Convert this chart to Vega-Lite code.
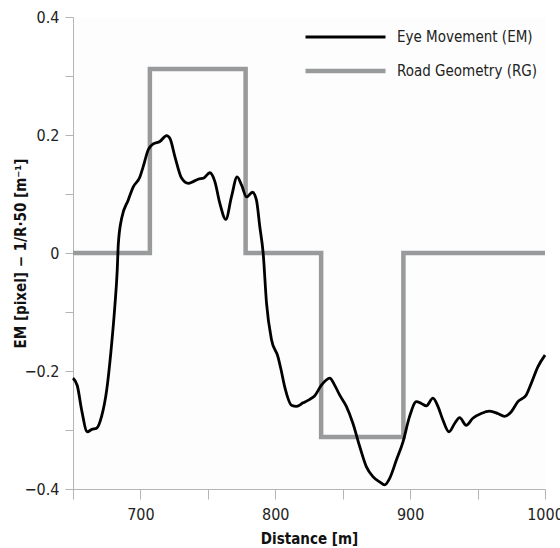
{
  "$schema": "https://vega.github.io/schema/vega-lite/v6.json",
  "width": 472,
  "height": 472,
  "autosize": "none",
  "padding": {"left": 73, "top": 17, "right": 15, "bottom": 59},
  "background": "white",
  "config": {
    "font": "DejaVu Sans Condensed, Liberation Sans Narrow, Roboto",
    "view": {"stroke": null, "fill": "#fdfdfd"}
  },
  "datasets": {
    "rg": [
      {"series": "Road Geometry (RG)", "i": 1, "x": 650, "y": 0},
      {"series": "Road Geometry (RG)", "i": 2, "x": 707, "y": 0},
      {"series": "Road Geometry (RG)", "i": 3, "x": 707, "y": 0.312},
      {"series": "Road Geometry (RG)", "i": 4, "x": 778, "y": 0.312},
      {"series": "Road Geometry (RG)", "i": 5, "x": 778, "y": 0},
      {"series": "Road Geometry (RG)", "i": 6, "x": 834, "y": 0},
      {"series": "Road Geometry (RG)", "i": 7, "x": 834, "y": -0.312},
      {"series": "Road Geometry (RG)", "i": 8, "x": 895, "y": -0.312},
      {"series": "Road Geometry (RG)", "i": 9, "x": 895, "y": 0},
      {"series": "Road Geometry (RG)", "i": 10, "x": 1000, "y": 0}
    ],
    "em": [
      {"series": "Eye Movement (EM)", "x": 650, "y": -0.212},
      {"series": "Eye Movement (EM)", "x": 653.2, "y": -0.225},
      {"series": "Eye Movement (EM)", "x": 656.4, "y": -0.266},
      {"series": "Eye Movement (EM)", "x": 660.6, "y": -0.303},
      {"series": "Eye Movement (EM)", "x": 664, "y": -0.299},
      {"series": "Eye Movement (EM)", "x": 667.5, "y": -0.297},
      {"series": "Eye Movement (EM)", "x": 671.2, "y": -0.277},
      {"series": "Eye Movement (EM)", "x": 675, "y": -0.232},
      {"series": "Eye Movement (EM)", "x": 678, "y": -0.17},
      {"series": "Eye Movement (EM)", "x": 681, "y": -0.091},
      {"series": "Eye Movement (EM)", "x": 682.8, "y": -0.029},
      {"series": "Eye Movement (EM)", "x": 683.6, "y": 0.015},
      {"series": "Eye Movement (EM)", "x": 686, "y": 0.058},
      {"series": "Eye Movement (EM)", "x": 691, "y": 0.09},
      {"series": "Eye Movement (EM)", "x": 694.7, "y": 0.112},
      {"series": "Eye Movement (EM)", "x": 699.6, "y": 0.129},
      {"series": "Eye Movement (EM)", "x": 702, "y": 0.146},
      {"series": "Eye Movement (EM)", "x": 705.8, "y": 0.175},
      {"series": "Eye Movement (EM)", "x": 709.5, "y": 0.185},
      {"series": "Eye Movement (EM)", "x": 714.4, "y": 0.189},
      {"series": "Eye Movement (EM)", "x": 719.4, "y": 0.199},
      {"series": "Eye Movement (EM)", "x": 721.9, "y": 0.194},
      {"series": "Eye Movement (EM)", "x": 725.6, "y": 0.163},
      {"series": "Eye Movement (EM)", "x": 730.5, "y": 0.127},
      {"series": "Eye Movement (EM)", "x": 735.4, "y": 0.118},
      {"series": "Eye Movement (EM)", "x": 739.1, "y": 0.121},
      {"series": "Eye Movement (EM)", "x": 742.8, "y": 0.125},
      {"series": "Eye Movement (EM)", "x": 747, "y": 0.127},
      {"series": "Eye Movement (EM)", "x": 751.5, "y": 0.136},
      {"series": "Eye Movement (EM)", "x": 755.2, "y": 0.121},
      {"series": "Eye Movement (EM)", "x": 758.9, "y": 0.084},
      {"series": "Eye Movement (EM)", "x": 763.3, "y": 0.057},
      {"series": "Eye Movement (EM)", "x": 767.5, "y": 0.095},
      {"series": "Eye Movement (EM)", "x": 771.7, "y": 0.129},
      {"series": "Eye Movement (EM)", "x": 775, "y": 0.115},
      {"series": "Eye Movement (EM)", "x": 778.7, "y": 0.095},
      {"series": "Eye Movement (EM)", "x": 783.1, "y": 0.103},
      {"series": "Eye Movement (EM)", "x": 786, "y": 0.09},
      {"series": "Eye Movement (EM)", "x": 788.5, "y": 0.045},
      {"series": "Eye Movement (EM)", "x": 791, "y": 0.0},
      {"series": "Eye Movement (EM)", "x": 793.5, "y": -0.085},
      {"series": "Eye Movement (EM)", "x": 797.2, "y": -0.147},
      {"series": "Eye Movement (EM)", "x": 802, "y": -0.176},
      {"series": "Eye Movement (EM)", "x": 804, "y": -0.195},
      {"series": "Eye Movement (EM)", "x": 807, "y": -0.227},
      {"series": "Eye Movement (EM)", "x": 812, "y": -0.258},
      {"series": "Eye Movement (EM)", "x": 815.7, "y": -0.26},
      {"series": "Eye Movement (EM)", "x": 820.6, "y": -0.254},
      {"series": "Eye Movement (EM)", "x": 825.6, "y": -0.248},
      {"series": "Eye Movement (EM)", "x": 829.3, "y": -0.242},
      {"series": "Eye Movement (EM)", "x": 834.2, "y": -0.224},
      {"series": "Eye Movement (EM)", "x": 840.4, "y": -0.212},
      {"series": "Eye Movement (EM)", "x": 844, "y": -0.224},
      {"series": "Eye Movement (EM)", "x": 847.8, "y": -0.241},
      {"series": "Eye Movement (EM)", "x": 852.7, "y": -0.26},
      {"series": "Eye Movement (EM)", "x": 857.6, "y": -0.289},
      {"series": "Eye Movement (EM)", "x": 862.6, "y": -0.328},
      {"series": "Eye Movement (EM)", "x": 867.5, "y": -0.362},
      {"series": "Eye Movement (EM)", "x": 872.4, "y": -0.379},
      {"series": "Eye Movement (EM)", "x": 877.4, "y": -0.388},
      {"series": "Eye Movement (EM)", "x": 881.1, "y": -0.393},
      {"series": "Eye Movement (EM)", "x": 884.8, "y": -0.382},
      {"series": "Eye Movement (EM)", "x": 889.8, "y": -0.351},
      {"series": "Eye Movement (EM)", "x": 894.7, "y": -0.32},
      {"series": "Eye Movement (EM)", "x": 899.6, "y": -0.277},
      {"series": "Eye Movement (EM)", "x": 904.6, "y": -0.252},
      {"series": "Eye Movement (EM)", "x": 908.3, "y": -0.255},
      {"series": "Eye Movement (EM)", "x": 912, "y": -0.259},
      {"series": "Eye Movement (EM)", "x": 916.9, "y": -0.246},
      {"series": "Eye Movement (EM)", "x": 920.6, "y": -0.26},
      {"series": "Eye Movement (EM)", "x": 924.3, "y": -0.283},
      {"series": "Eye Movement (EM)", "x": 928.8, "y": -0.303},
      {"series": "Eye Movement (EM)", "x": 933, "y": -0.289},
      {"series": "Eye Movement (EM)", "x": 936.7, "y": -0.279},
      {"series": "Eye Movement (EM)", "x": 941.6, "y": -0.292},
      {"series": "Eye Movement (EM)", "x": 946.5, "y": -0.28},
      {"series": "Eye Movement (EM)", "x": 952.7, "y": -0.272},
      {"series": "Eye Movement (EM)", "x": 958.9, "y": -0.268},
      {"series": "Eye Movement (EM)", "x": 965, "y": -0.272},
      {"series": "Eye Movement (EM)", "x": 970, "y": -0.277},
      {"series": "Eye Movement (EM)", "x": 975, "y": -0.269},
      {"series": "Eye Movement (EM)", "x": 979.9, "y": -0.252},
      {"series": "Eye Movement (EM)", "x": 986, "y": -0.241},
      {"series": "Eye Movement (EM)", "x": 989.8, "y": -0.221},
      {"series": "Eye Movement (EM)", "x": 994.7, "y": -0.193},
      {"series": "Eye Movement (EM)", "x": 1000, "y": -0.173}
    ]
  },
  "encoding": {
    "x": {
      "field": "x", "type": "quantitative",
      "scale": {"domain": [650, 1000], "nice": false, "zero": false},
      "axis": {
        "title": "Distance [m]",
        "values": [650, 700, 750, 800, 850, 900, 950, 1000],
        "labelExpr": "datum.value % 100 == 0 ? format(datum.value, 'd') : ''",
        "grid": false, "domainColor": "#b5b5b5", "tickColor": "#b5b5b5",
        "tickSize": 10, "labelFontSize": 16, "labelColor": "#222",
        "labelPadding": 7, "labelFlush": false, "labelOverlap": false,
        "titleFontSize": 15, "titleFontWeight": "bold", "titleColor": "#111",
        "titlePadding": 9
      }
    },
    "y": {
      "field": "y", "type": "quantitative",
      "scale": {"domain": [-0.4, 0.4], "nice": false},
      "axis": {
        "title": "EM [pixel] − 1/R·50 [m⁻¹]",
        "values": [-0.4, -0.3, -0.2, -0.1, 0, 0.1, 0.2, 0.3, 0.4],
        "labelExpr": "abs(datum.value) < 0.001 ? '0' : (abs(round(datum.value * 10)) % 2 == 0 ? format(datum.value, '.1f') : '')",
        "grid": false, "domainColor": "#b5b5b5", "tickColor": "#b5b5b5",
        "tickSize": 8, "labelFontSize": 16, "labelColor": "#222",
        "labelPadding": 6, "labelFlush": false, "labelOverlap": false,
        "titleFontSize": 15, "titleFontWeight": "bold", "titleColor": "#111",
        "titlePadding": -4
      }
    },
    "color": {
      "field": "series", "type": "nominal",
      "scale": {"domain": ["Eye Movement (EM)", "Road Geometry (RG)"], "range": ["#000000", "#999a9c"]},
      "legend": {
        "title": null, "orient": "none", "legendX": 222, "legendY": -5,
        "symbolType": "stroke", "symbolSize": 6400, "symbolStrokeWidth": 4,
        "labelFontSize": 15, "labelColor": "#222", "labelOffset": 9,
        "clipHeight": 34, "rowPadding": 0, "padding": 8
      }
    },
    "strokeWidth": {
      "field": "series", "type": "nominal",
      "scale": {"domain": ["Eye Movement (EM)", "Road Geometry (RG)"], "range": [2.8, 4.5]},
      "legend": null
    }
  },
  "layer": [
    {
      "data": {"name": "rg"},
      "mark": {"type": "line", "strokeCap": "butt", "strokeJoin": "miter"},
      "encoding": {"order": {"field": "i", "type": "quantitative"}}
    },
    {
      "data": {"name": "em"},
      "mark": {"type": "line", "interpolate": "monotone"}
    }
  ]
}
